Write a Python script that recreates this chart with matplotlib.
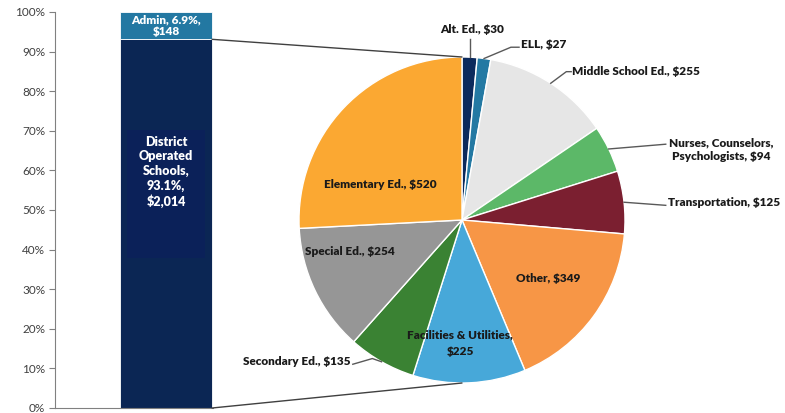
import numpy as np
import matplotlib
matplotlib.use('Agg')
import matplotlib.pyplot as plt
from matplotlib.patches import ConnectionPatch, Rectangle

plt.rcParams['font.family'] = ['Lato', 'DejaVu Sans']

# Data
bar_names = ['District Operated Schools', 'Admin']
bar_values = [2014, 148]
bar_pct = [93.1, 6.9]
bar_colors = ['#0b2654', '#2378a2']

pie_names = ['Alt. Ed.', 'ELL', 'Middle School Ed.', 'Nurses, Counselors,\nPsychologists',
             'Transportation', 'Other', 'Facilities & Utilities,\n', 'Secondary Ed.',
             'Special Ed.', 'Elementary Ed.']
pie_values = [30, 27, 255, 94, 125, 349, 225, 135, 254, 520]
pie_colors = ['#0c2a5c', '#2479a3', '#e6e6e6', '#5cb868', '#7b1f30', '#f79646',
              '#47a8d9', '#3a8233', '#969696', '#fba832']

W, H = 785, 413
fig = plt.figure(figsize=(W / 100, H / 100), dpi=100)

# ---- stacked bar ----
axb = fig.add_axes([55 / W, 5 / H, 158 / W, 396 / H])
bottom = 0
for v, c in zip(bar_pct, bar_colors):
    axb.bar(0, v, width=1.0, bottom=bottom, color=c, edgecolor='white', linewidth=0.6)
    bottom += v
axb.set_xlim(-1.207, 0.51)
axb.set_ylim(0, 100)
axb.set_yticks(np.arange(0, 101, 10))
axb.set_yticklabels(['%d%%' % t for t in range(0, 101, 10)], fontsize=8.5, color='#404040')
axb.set_xticks([])
axb.tick_params(axis='y', direction='out', length=4, color='#808080', pad=3)
for s in ['top', 'right']:
    axb.spines[s].set_visible(False)
axb.spines['left'].set_color('#808080')
axb.spines['bottom'].set_color('#808080')

tb = dict(ha='center', va='center', color='white', fontsize=9, fontweight='heavy', zorder=4)
axb.add_patch(Rectangle((-0.42, 38), 0.84, 32.3, facecolor='#0b2159', edgecolor='none', zorder=3))
axb.text(0, 59.6, 'District\nOperated\nSchools,\n%.1f%%,\n$%s' % (bar_pct[0], format(bar_values[0], ',')),
         linespacing=1.25, **tb)
axb.text(0, bar_pct[0] + bar_pct[1] / 2, 'Admin, %.1f%%,\n$%d' % (bar_pct[1], bar_values[1]),
         linespacing=1.05, **dict(tb, fontsize=8.5))

# ---- pie ----
r = 163
axp = fig.add_axes([(462 - r) / W, (193 - r) / H, 2 * r / W, 2 * r / H])
axp.pie(pie_values, colors=pie_colors, startangle=90, counterclock=False,
        wedgeprops=dict(edgecolor='white', linewidth=1))
axp.set_xlim(-1, 1)
axp.set_ylim(-1, 1)
axp.set_aspect('equal')
axp.axis('off')

# wedge mid angles (radians, measured clockwise from top)
cum = np.cumsum([0] + pie_values)
mid = (cum[:-1] + cum[1:]) / 2 / cum[-1] * 2 * np.pi
edge = [(np.sin(a), np.cos(a)) for a in mid]

lbl = ['%s, $%d' % (n, v) if not n.endswith('\n') else '%s$%d' % (n, v)
       for n, v in zip(pie_names, pie_values)]
tk = dict(fontsize=8.5, fontweight='heavy', color='#1a1a1a')
lk = dict(color='#595959', lw=1, clip_on=False)

# outside labels with leader lines
axp.plot([edge[0][0], edge[0][0]], [edge[0][1], 1.11], **lk)
axp.text(0.06, 1.17, lbl[0], ha='center', va='center', **tk)

axp.plot([edge[1][0], 0.30, 0.35], [edge[1][1], 1.06, 1.06], **lk)
axp.text(0.36, 1.075, lbl[1], ha='left', va='center', **tk)

axp.plot([edge[2][0], 0.64, 0.67], [edge[2][1], 0.91, 0.91], **lk)
axp.text(0.675, 0.91, lbl[2], ha='left', va='center', **tk)

axp.plot([edge[3][0], 1.25], [edge[3][1], 0.465], **lk)
axp.text(1.59, 0.43, lbl[3], ha='center', va='center', linespacing=1.35, **tk)

axp.plot([edge[4][0], 1.25], [edge[4][1], 0.09], **lk)
axp.text(1.265, 0.11, lbl[4], ha='left', va='center', **tk)

axp.plot([edge[7][0], -0.55, -0.67], [edge[7][1], -0.85, -0.885], **lk)
axp.text(-0.685, -0.87, lbl[7], ha='right', va='center', **tk)

# inside labels
axp.text(0.53, -0.36, lbl[5], ha='center', va='center', **tk)
axp.text(-0.01, -0.755, lbl[6], ha='center', va='center', linespacing=1.6, **tk)
axp.text(-0.69, -0.195, lbl[8], ha='center', va='center', **tk)
axp.text(-0.50, 0.22, lbl[9], ha='center', va='center', **tk)

# connectors from bar to pie
for yb, yp in [(bar_pct[0], 1), (0, -1)]:
    con = ConnectionPatch(xyA=(0.5, yb), coordsA=axb.transData,
                          xyB=(0, yp), coordsB=axp.transData,
                          color='#404040', lw=1)
    fig.add_artist(con)

fig.savefig('out.png', dpi=100)
